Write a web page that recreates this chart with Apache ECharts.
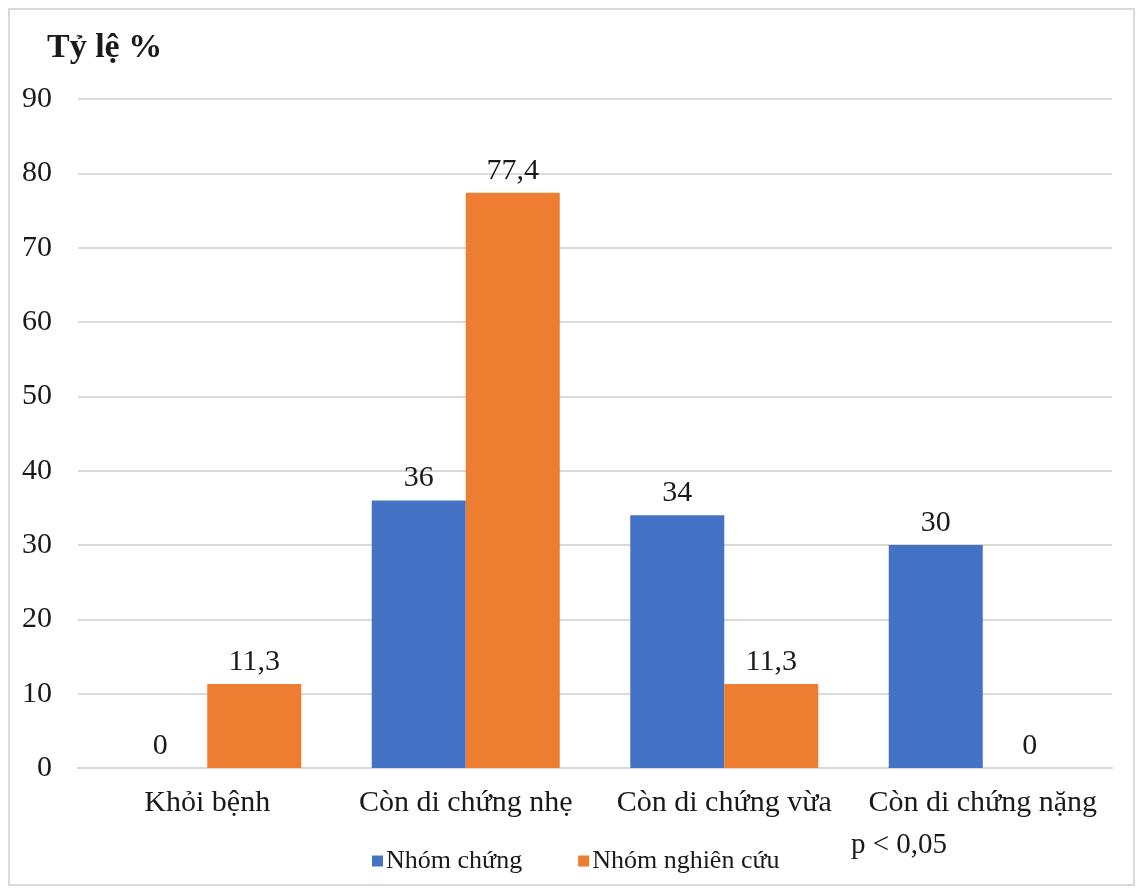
<!DOCTYPE html>
<html>
<head>
<meta charset="utf-8">
<script src="https://cdn.jsdelivr.net/npm/echarts@6/dist/echarts.min.js"></script>
<style>
  html, body { margin: 0; padding: 0; background: #fff; }
  #chart { width: 1138px; height: 889px; }
</style>
</head>
<body>
<div id="chart"></div>
<script>
const categories = ['Khỏi bệnh', 'Còn di chứng nhẹ', 'Còn di chứng vừa', 'Còn di chứng nặng']
const seriesNames = ['Nhóm chứng', 'Nhóm nghiên cứu']
const controlValues = [0, 36, 34, 30]
const studyValues = [11.3, 77.4, 11.3, 0]
const yTicks = [0, 10, 20, 30, 40, 50, 60, 70, 80, 90]

const serif = '"Liberation Serif", "DejaVu Serif", serif'
const textColor = '#1a1a1a'

const fmt = (v) => String(v).replace('.', ',')

const chart = echarts.init(document.getElementById('chart'))

const barSeries = (name, data, color) => ({
  name,
  type: 'bar',
  data,
  barWidth: 94,
  barGap: '0%',
  itemStyle: { color },
  label: {
    show: true,
    position: 'top',
    distance: 7,
    formatter: (p) => fmt(p.value),
    fontFamily: serif,
    fontSize: 30,
    color: textColor
  }
})

chart.setOption({
  animation: false,
  backgroundColor: '#fff',
  graphic: [
    {
      type: 'rect',
      shape: { x: 9, y: 9, width: 1125, height: 876 },
      style: { fill: 'none', stroke: '#d9d9d9', lineWidth: 2 },
      silent: true
    },
    {
      type: 'text',
      left: 47,
      top: 31,
      style: { text: 'Tỷ lệ %', font: 'bold 34px ' + serif, fill: textColor }
    },
    {
      type: 'text',
      left: 851,
      top: 831,
      style: { text: 'p < 0,05', font: '29px ' + serif, fill: textColor }
    }
  ],
  grid: { left: 78, right: 26, top: 99, bottom: 121, containLabel: false },
  legend: {
    data: seriesNames,
    left: 367,
    top: 843,
    itemWidth: 11,
    itemHeight: 11,
    itemGap: 56,
    icon: 'rect',
    textStyle: { fontFamily: serif, fontSize: 26, color: textColor, padding: [0, 0, 0, -2] }
  },
  xAxis: {
    type: 'category',
    data: categories,
    axisLine: { lineStyle: { color: '#d9d9d9', width: 2 } },
    axisTick: { show: false },
    axisLabel: { interval: 0, hideOverlap: false, fontFamily: serif, fontSize: 30, color: textColor, margin: 20 }
  },
  yAxis: {
    type: 'value',
    min: yTicks[0],
    max: yTicks[yTicks.length - 1],
    interval: 10,
    axisLine: { show: false },
    axisTick: { show: false },
    axisLabel: { fontFamily: serif, fontSize: 30, color: textColor, margin: 26 },
    splitLine: { lineStyle: { color: '#d9d9d9', width: 2 } }
  },
  series: [
    barSeries(seriesNames[0], controlValues, '#4472c4'),
    barSeries(seriesNames[1], studyValues, '#ed7d31')
  ]
})
</script>
</body>
</html>
